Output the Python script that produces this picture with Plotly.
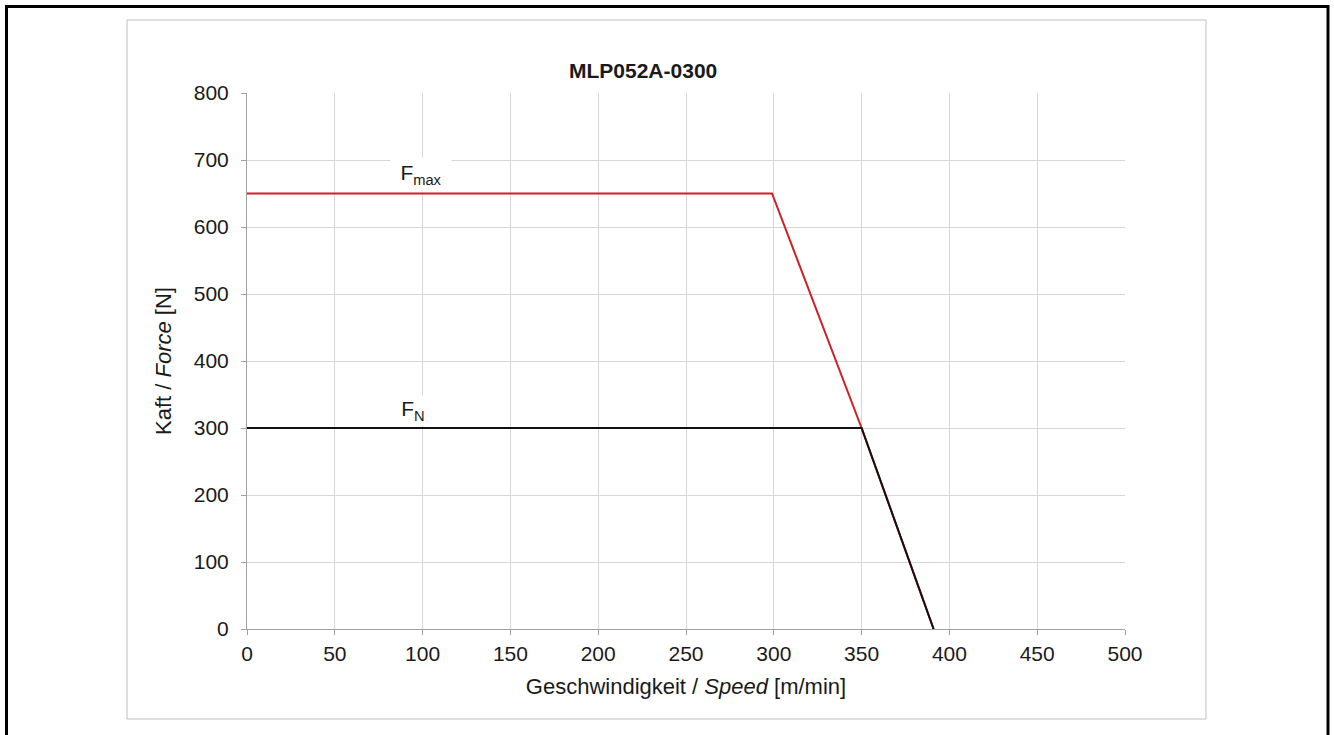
import plotly.graph_objects as go

# Data
fmax_x = [0, 299, 350, 391]
fmax_y = [650, 650, 300, 0]
fn_x = [0, 350, 391]
fn_y = [300, 300, 0]
x_ticks = [0, 50, 100, 150, 200, 250, 300, 350, 400, 450, 500]
y_ticks = [0, 100, 200, 300, 400, 500, 600, 700, 800]

FONT = "Liberation Sans, Arial, sans-serif"
TXT = "#1a1a1a"
W, H = 1334, 735
L, R, T, B = 247, 1125, 93, 629  # plot area in px


def px(x):
    return (x - L) / (R - L)


def py(y):
    return (B - y) / (B - T)


fig = go.Figure()
fig.add_trace(go.Scatter(x=fmax_x, y=fmax_y, mode="lines",
                         line=dict(color="#d21e26", width=2), showlegend=False))
fig.add_trace(go.Scatter(x=fn_x, y=fn_y, mode="lines",
                         line=dict(color="#111111", width=2), showlegend=False))

axis_common = dict(
    showgrid=True, gridcolor="#d6d6d6", gridwidth=1,
    showline=True, linecolor="#a0a0a0", linewidth=1,
    ticks="outside", ticklen=5, tickcolor="#a0a0a0",
    tickfont=dict(family=FONT, size=21, color=TXT),
    zeroline=False,
)

fig.update_xaxes(range=[0, 500], tickvals=x_ticks, **axis_common,
                 ticklabelstandoff=1,
                 title=dict(text="Geschwindigkeit / <i>Speed</i> [m/min]",
                            font=dict(family=FONT, size=22, color=TXT),
                            standoff=14))
fig.update_yaxes(range=[0, 800], tickvals=y_ticks, **axis_common,
                 ticklabelstandoff=8,
                 title=dict(text="Kaft / <i>Force</i> [N]",
                            font=dict(family=FONT, size=22, color=TXT),
                            standoff=16))

fig.update_layout(
    width=W, height=H,
    margin=dict(l=L, r=W - R, t=T, b=H - B, pad=0),
    paper_bgcolor="white", plot_bgcolor="white",
    shapes=[
        dict(type="rect", xref="paper", yref="paper",
             x0=px(6.5), x1=px(1328), y0=py(760), y1=py(6.5),
             line=dict(color="black", width=3), layer="below"),
        dict(type="rect", xref="paper", yref="paper",
             x0=px(127), x1=px(1206), y0=py(719), y1=py(20),
             line=dict(color="#bfbfbf", width=1), layer="below"),
    ],
    annotations=[
        dict(text="<b>MLP052A-0300</b>", xref="paper", yref="paper",
             x=px(643), y=py(57.5), showarrow=False,
             font=dict(family=FONT, size=21, color=TXT)),
        dict(text="F<sub>max</sub>", xref="x", yref="y", x=99, y=(B - 174) / 0.67,
             showarrow=False, bgcolor="white", width=60, height=33, borderpad=0,
             font=dict(family=FONT, size=21, color=TXT)),
        dict(text="F<sub>N</sub>", xref="x", yref="y", x=94.5, y=(B - 410) / 0.67,
             showarrow=False, bgcolor="white", width=40, height=29, borderpad=0,
             font=dict(family=FONT, size=21, color=TXT)),
    ],
)

fig.write_html("out.html", config={"displayModeBar": False},
               post_script="document.body.style.margin='0';")
